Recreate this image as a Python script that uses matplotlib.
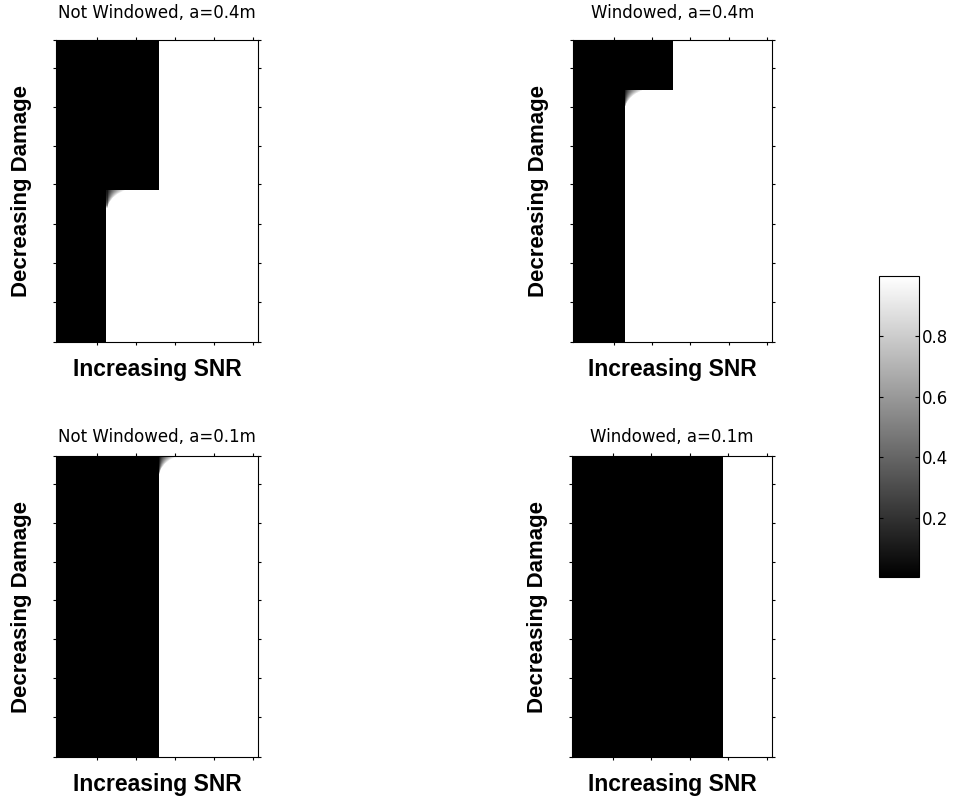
import numpy as np
import matplotlib.pyplot as plt

# panel titles, row-major
panel_titles = ['Not Windowed, a=0.4m', 'Windowed, a=0.4m',
                'Not Windowed, a=0.1m', 'Windowed, a=0.1m']

# SNR (fraction of x axis) where the map switches from 0 to 1,
# above and below the damage step
snr_edge_upper = [0.51, 0.505, 0.51, 0.757]
snr_edge_lower = [0.25, 0.258, 0.51, 0.757]
# damage level (fraction from top) where the edge jumps
damage_step = [0.497, 0.166, 0.0, 0.0]
corner_soft = [True, True, True, False]
# grey ramp width (fraction of x axis) on the rows just below the step
corner_ramp = [0.09, 0.08, 0.07, 0.06, 0.052, 0.045, 0.039, 0.033, 0.028, 0.024,
               0.02, 0.016, 0.013, 0.01, 0.008, 0.006, 0.004, 0.003, 0.002]

cbar_ticks = [0.2, 0.4, 0.6, 0.8]
clim = (0.003, 1.0)

NX, NY = 200, 300
xc = (np.arange(NX) + 0.5) / NX


def detection_map(k):
    img = np.zeros((NY, NX))
    step = int(round(damage_step[k] * NY))
    for r in range(NY):
        edge = snr_edge_upper[k] if r < step else snr_edge_lower[k]
        j = r - step
        ramp = corner_ramp[j] if (corner_soft[k] and 0 <= j < len(corner_ramp)) else 0
        if ramp > 0:
            img[r] = np.clip((xc - edge) / ramp, 0, 1) ** 0.7
        else:
            img[r] = (xc >= edge).astype(float)
    return img


fig = plt.figure(figsize=(9.63, 8.05), dpi=100)

W, H = 963, 805
# axes boxes in pixels: left, top, right, bottom
boxes = [(56, 40, 258, 342), (573, 40, 772, 342),
         (56, 456, 258, 757), (572, 456, 772, 757)]
title_pads = [16, 16, 10, 10]

xt = [0.205, 0.397, 0.59, 0.782, 0.975]
yt = [0, 0.094, 0.221, 0.351, 0.477, 0.608, 0.737, 0.867, 1.0]

im = None
for k, (l, t, r, b) in enumerate(boxes):
    ax = fig.add_axes([l / W, 1 - b / H, (r - l) / W, (b - t) / H])
    im = ax.imshow(detection_map(k), cmap='gray', vmin=clim[0], vmax=clim[1],
                   extent=(0, 1, 1, 0), aspect='auto', interpolation='nearest')
    ax.set_xlim(0, 1)
    ax.set_ylim(1, 0)
    ax.set_xticks(xt)
    ax.set_yticks(yt)
    ax.tick_params(direction='out', length=2.5, width=0.8, top=True, right=True,
                   labelbottom=False, labelleft=False)
    for s in ax.spines.values():
        s.set_linewidth(0.8)
    ax.set_title(panel_titles[k], fontsize=12, family='DejaVu Sans', pad=title_pads[k])
    ax.set_xlabel('Increasing SNR', fontsize=16.5, fontweight='bold',
                  family='Liberation Sans', labelpad=9)
    ax.set_ylabel('Decreasing Damage', fontsize=16, fontweight='bold',
                  family='Liberation Sans', labelpad=15)

cax = fig.add_axes([879 / W, 1 - 577 / H, 40 / W, 301 / H])
cb = fig.colorbar(im, cax=cax)
cb.set_ticks(cbar_ticks)
cb.set_ticklabels([f'{v:.1f}' for v in cbar_ticks])
cax.tick_params(direction='in', left=True, right=True, length=3, width=0.8,
                labelsize=12, pad=2)
cb.outline.set_linewidth(0.8)

fig.savefig('out.png', dpi=100)
